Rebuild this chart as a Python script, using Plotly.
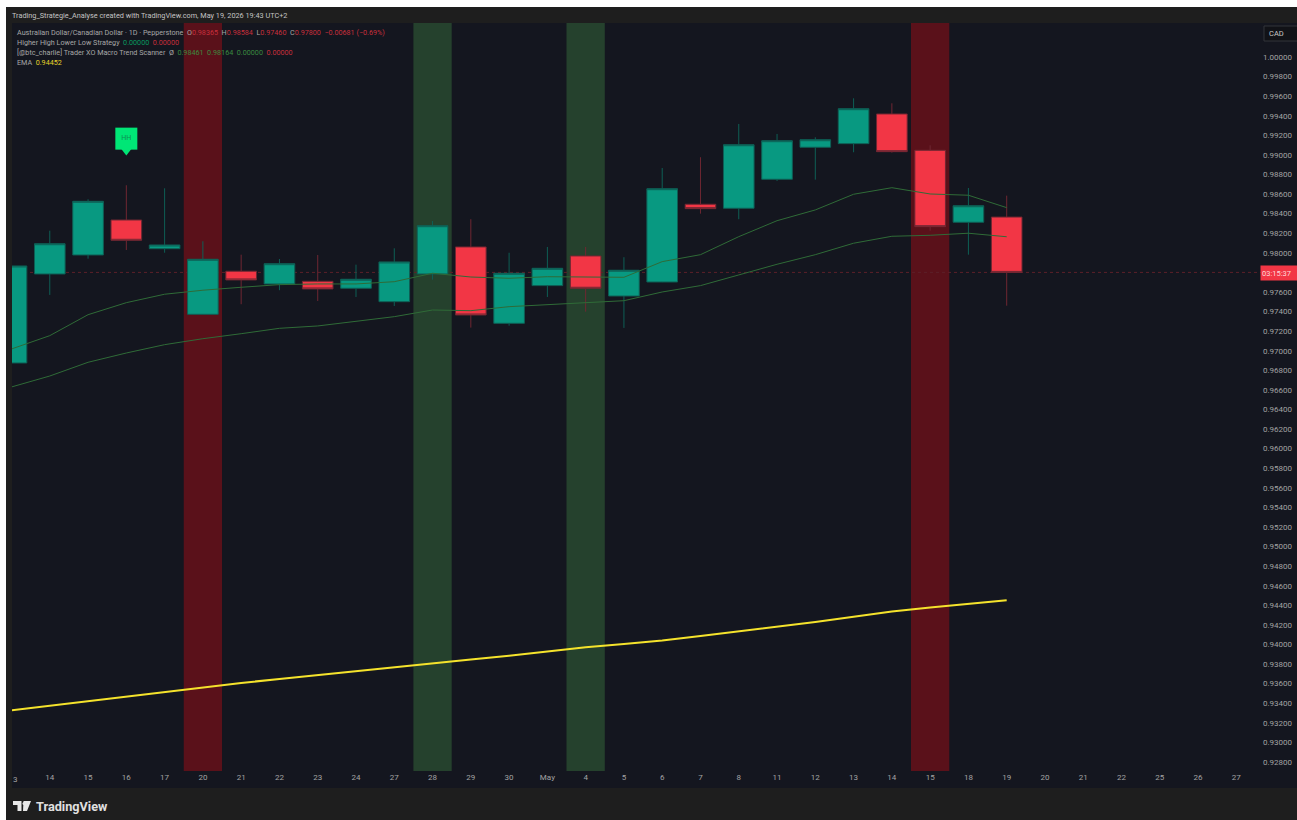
import plotly.graph_objects as go

day_labels = ["13","14","15","16","17","20","21","22","23","24","27","28","29","30","May","4","5","6","7","8","11","12","13","14","15","18","19","20","21","22","25","26","27"]
opens  = [.96875,.97784,.97978,.98335,.98042,.97372,.97812,.97682,.97709,.97638,.97501,.97784,.98060,.97280,.97665,.97968,.97559,.97702,.98496,.98455,.98751,.99078,.99115,.99418,.99047,.98312,.98365]
highs  = [.97870,.98226,.98547,.98690,.98659,.98118,.97981,.97937,.97978,.97879,.98046,.98325,.98343,.98001,.98060,.98060,.97955,.98866,.98976,.99316,.99214,.99180,.99578,.99527,.99098,.98662,.98584]
lows   = [.96870,.97570,.97940,.98029,.98001,.97370,.97475,.97618,.97508,.97549,.97457,.97726,.97236,.97256,.97549,.97399,.97233,.97700,.98400,.98343,.98734,.98747,.99027,.99023,.98226,.97981,.97460]
closes = [.97866,.98093,.98526,.98128,.98080,.97934,.97723,.97889,.97631,.97730,.97907,.98277,.97365,.97791,.97842,.97638,.97822,.98655,.98451,.99104,.99145,.99155,.99472,.99033,.98267,.98481,.97800]
macro_fast = [.97018,.97154,.97368,.97491,.97577,.97618,.97648,.97675,.97682,.97682,.97705,.97791,.97753,.97740,.97756,.97750,.97750,.97910,.97981,.98165,.98328,.98438,.98598,.98665,.98601,.98588,.98461]
macro_slow = [.96630,.96742,.96882,.96977,.97062,.97123,.97174,.97229,.97253,.97297,.97348,.97416,.97409,.97450,.97470,.97485,.97511,.97600,.97665,.97774,.97883,.97981,.98098,.98169,.98179,.98200,.98164]
ema = [.93328,.93375,.93423,.93469,.93515,.93566,.93607,.93648,.93689,.93730,.93768,.93812,.93847,.93886,.93929,.93972,.94005,.94041,.94087,.94133,.94179,.94230,.94284,.94337,.94378,.94414,.94452]
red_bands = [5, 24]
green_bands = [11, 15]
hh_index = 3
hh_price = 0.99166
hh_arrow_price = 0.99050
price_ticks = [1.0,.998,.996,.994,.992,.99,.988,.986,.984,.982,.98,.976,.974,.972,.97,.968,.966,.964,.962,.96,.958,.956,.954,.952,.95,.948,.946,.944,.942,.94,.938,.936,.934,.932,.93,.928]
last_price = 0.978

W, H = 1297, 820
L, R, T, B = 12, 1262, 23, 771
PANEL = "#14161f"; FRAME = "#1e1e1e"; TXT = "#a3a3a3"
FONT = "Roboto, Arial, sans-serif"
px = lambda x: (x - L) / (R - L)
py = lambda y: (B - y) / (B - T)
xs = list(range(len(opens)))

fig = go.Figure()
fig.add_trace(go.Scatter(x=xs, y=macro_fast, mode="lines", line=dict(color="#2f6b37", width=1), showlegend=False, hoverinfo="skip"))
fig.add_trace(go.Scatter(x=xs, y=macro_slow, mode="lines", line=dict(color="#2f6b37", width=1), showlegend=False, hoverinfo="skip"))
fig.add_trace(go.Candlestick(x=xs, open=opens, high=highs, low=lows, close=closes, whiskerwidth=0, showlegend=False,
    increasing=dict(fillcolor="#089981", line=dict(color="#0e5f55", width=1)),
    decreasing=dict(fillcolor="#f23645", line=dict(color="#6f2732", width=1))))
fig.add_trace(go.Scatter(x=xs, y=ema, mode="lines", line=dict(color="#f5e32c", width=2), showlegend=False, hoverinfo="skip"))
fig.add_trace(go.Scatter(x=[hh_index], y=[hh_arrow_price], mode="markers", marker=dict(symbol="triangle-down", size=11, color="#00e676", line_width=0), showlegend=False, hoverinfo="skip"))
fig.add_trace(go.Scatter(x=[hh_index], y=[hh_price], mode="markers+text", text=["HH"], textposition="middle center",
    textfont=dict(size=7, color="#0b8f52", family=FONT), marker=dict(symbol="square", size=22, color="#00e676", line_width=0), showlegend=False, hoverinfo="skip"))

shapes = []
for i in red_bands:
    shapes.append(dict(type="rect", xref="x", yref="paper", x0=i-.5, x1=i+.5, y0=0, y1=1, layer="below", fillcolor="#5a111a", line_width=0))
for i in green_bands:
    shapes.append(dict(type="rect", xref="x", yref="paper", x0=i-.5, x1=i+.5, y0=0, y1=1, layer="below", fillcolor="#25412d", line_width=0))
shapes.append(dict(type="line", xref="paper", yref="y", x0=0, x1=1, y0=last_price, y1=last_price, layer="below", line=dict(color="#5c2029", width=1, dash="dot")))
# page frame around the chart panel
for x0, y0, x1, y1, c_ in [(0,0,W,7,"#ffffff"),(0,0,6,820,"#ffffff"),(6,7,W,23,FRAME),(6,7,12,820,FRAME),(6,788,W,820,FRAME)]:
    shapes.append(dict(type="rect", xref="paper", yref="paper", x0=px(x0), x1=px(x1), y0=py(y1), y1=py(y0), layer="below", fillcolor=c_, line_width=0))
shapes.append(dict(type="rect", xref="paper", yref="paper", x0=px(1264), x1=px(1299), y0=py(41), y1=py(26), layer="above", fillcolor="#111217", line=dict(color="#33353b", width=1)))
# TradingView logo mark
shapes.append(dict(type="path", xref="paper", yref="paper", layer="above", fillcolor="#e8e8e8", line_width=0,
    path="M %f %f L %f %f L %f %f L %f %f L %f %f L %f %f Z" % (px(13),py(801),px(21.5),py(801),px(21.5),py(811),px(17.5),py(811),px(17.5),py(805),px(13),py(805))))
shapes.append(dict(type="path", xref="paper", yref="paper", layer="above", fillcolor="#e8e8e8", line_width=0,
    path="M %f %f L %f %f L %f %f L %f %f Z" % (px(23.5),py(801),px(31),py(801),px(27),py(811),px(23),py(811))))
shapes.append(dict(type="circle", xref="paper", yref="paper", layer="above", fillcolor="#e8e8e8", line_width=0,
    x0=px(22.5), x1=px(25.5), y0=py(805), y1=py(802)))

def note(x, y, text, size=8, color=TXT, anchor="left", **kw):
    return dict(xref="paper", yref="paper", x=px(x), y=py(y), text=text, showarrow=False, xanchor=anchor, yanchor="middle",
                font=dict(family=FONT, size=size, color=color), align="left", **kw)

def c(col, s):
    return '<span style="color:%s">%s</span>' % (col, s)

RED = "#c92f3c"; GRN = "#089a60"; MG = "#3a8a3f"; LEG = "#a8a8a8"
annotations = [
    note(10, 15.5, "Trading_Strategie_Analyse created with TradingView.com, May 19, 2026 19:43 UTC+2", 7.3, "#c4c4c4"),
    note(15, 32, c(LEG, "Australian Dollar/Canadian Dollar · 1D · Pepperstone  O") + c(RED, "0.98365") + c(LEG, "  H") + c(RED, "0.98584") + c(LEG, "  L") + c(RED, "0.97460") + c(LEG, "  C") + c(RED, "0.97800  −0.00681 (−0.69%)"), 7.2),
    note(15, 42.3, c(LEG, "Higher High Lower Low Strategy  ") + c(GRN, "0.00000") + "  " + c(RED, "0.00000"), 7.2),
    note(15, 52.5, c(LEG, "[@btc_charlie] Trader XO Macro Trend Scanner  Ø  ") + c(MG, "0.98461  0.98164  0.00000") + "  " + c(RED, "0.00000"), 7.2),
    note(15, 62.7, c(LEG, "EMA  ") + c("#e4d32a", "0.94452"), 7.2),
    note(1267, 33.5, "CAD", 7.5, "#c8c8c8"),
    note(1279.5, 272.5, "03:15:37", 7.5, "#ffd9dc", anchor="center", bgcolor="#f23645", width=35, height=12),
    note(11, 779, "3", 8),
    note(34, 806, "<b>TradingView</b>", 12.7, "#e0e0e0"),
]

fig.update_layout(
    width=W, height=H, autosize=False,
    margin=dict(l=L, r=W-R, t=T, b=H-B, pad=0, autoexpand=False),
    paper_bgcolor=PANEL, plot_bgcolor=PANEL,
    showlegend=False, boxgap=0.2, boxgroupgap=0, dragmode=False,
    shapes=shapes, annotations=annotations,
    font=dict(family=FONT, size=8, color=TXT),
    xaxis=dict(range=[0.013, 32.67], tickmode="array", tickvals=list(range(len(day_labels))), ticktext=day_labels,
               showgrid=False, zeroline=False, showline=False, ticks="", rangeslider=dict(visible=False),
               tickfont=dict(size=8, color=TXT, family=FONT), tickangle=0),
    yaxis=dict(side="right", range=[0.92708, 1.00347], tickmode="array", tickvals=price_ticks,
               ticktext=["%.5f" % v for v in price_ticks], showgrid=False, zeroline=False, showline=False, ticks="",
               tickfont=dict(size=8, color=TXT, family=FONT)),
)
fig.write_html("out.html", config=dict(displayModeBar=False, responsive=False), div_id="chart",
               post_script="document.body.style.margin='0';document.body.style.overflow='hidden';"
                           "var g=document.getElementById('chart');g.style.width='1297px';g.style.height='820px';"
                           "Plotly.relayout(g,{width:1297,height:820});")
